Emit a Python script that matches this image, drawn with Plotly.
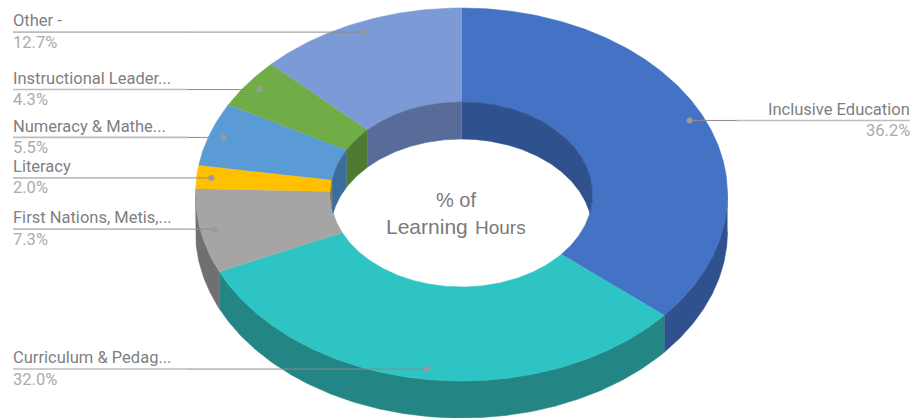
import numpy as np
import plotly.graph_objects as go

categories = ["Inclusive Education", "Curriculum & Pedag...", "First Nations, Metis,...", "Literacy",
              "Numeracy & Mathe...", "Instructional Leader...", "Other -"]
values = [36.2, 32.0, 7.3, 2.0, 5.5, 4.3, 12.7]
top_colors = ["#4472C4", "#2FC4C4", "#A5A5A5", "#FFC000", "#5B9BD5", "#70AD47", "#7C9BD6"]
side_colors = ["#2F528F", "#238584", "#707070", "#A67C00", "#3B6E9C", "#4E7A31", "#596C99"]

W, H = 911, 418
CX, CY = 461.5, 194.5
RX, RY = 266, 186.5
IX, IY = 131, 92.5
DEPTH = 37
DOT = 0.945
LABEL_EDGE = 13
RIGHT_EDGE = 910
BREAK_L, BREAK_R = 187, 737
FONT = "Roboto"

edges = np.cumsum([0] + values) / sum(values) * 360
fig = go.Figure()


def arc(a0, a1, rx, ry, dy=0.0):
    n = max(3, int(abs(a1 - a0) * 2))
    t = np.radians(np.linspace(a0, a1, n))
    return CX + rx * np.sin(t), CY + dy - ry * np.cos(t)


def poly(x, y, color, line=None):
    fig.add_trace(go.Scatter(x=list(x), y=list(y), mode="lines", fill="toself", fillcolor=color,
                             line=dict(color=line or color, width=0.6), hoverinfo="skip", showlegend=False))


# outer side wall (front half of the ring)
for i in range(len(values)):
    a0, a1 = max(edges[i], 90), min(edges[i + 1], 270)
    if a1 > a0:
        x, y = arc(a0, a1, RX, RY)
        x2, y2 = arc(a1, a0, RX, RY, DEPTH)
        poly(np.r_[x, x2], np.r_[y, y2], side_colors[i])

# top face
for i in range(len(values)):
    x, y = arc(edges[i], edges[i + 1], RX, RY)
    x2, y2 = arc(edges[i + 1], edges[i], IX, IY)
    poly(np.r_[x, x2], np.r_[y, y2], top_colors[i])

# inner wall (back half of the hole), clipped to the hole
for i in range(len(values)):
    for lo, hi in ((0, 90), (270, 360)):
        a0, a1 = max(edges[i], lo), min(edges[i + 1], hi)
        if a1 > a0:
            x, y = arc(a0, a1, IX, IY)
            y_low = np.minimum(y + DEPTH, 2 * CY - y)
            poly(np.r_[x, x[::-1]], np.r_[y, y_low[::-1]], side_colors[i])

# leader lines, dots and labels
annotations = []
for i, name in enumerate(categories):
    mid = np.radians((edges[i] + edges[i + 1]) / 2)
    dx = CX + DOT * RX * np.sin(mid)
    dy = CY - DOT * RY * np.cos(mid)
    right = dx > CX
    end = RIGHT_EDGE if right else LABEL_EDGE
    brk = BREAK_R if right else BREAK_L
    fig.add_trace(go.Scatter(x=[end, brk], y=[dy, dy], mode="lines", line=dict(color="#BDBDBD", width=1.6),
                             hoverinfo="skip", showlegend=False))
    fig.add_trace(go.Scatter(x=[brk, dx], y=[dy, dy], mode="lines", line=dict(color="#8C8C8C", width=1),
                             hoverinfo="skip", showlegend=False))
    fig.add_trace(go.Scatter(x=[dx], y=[dy], mode="markers", marker=dict(color="#9A9A9A", size=6),
                             hoverinfo="skip", showlegend=False))
    anchor = "right" if right else "left"
    annotations.append(dict(x=end, y=dy, yshift=11.2, text=name, xanchor=anchor, yanchor="middle", showarrow=False,
                            font=dict(family=FONT, size=16.5, color="#7F7F7F"), xref="x", yref="y",
                            borderpad=0, borderwidth=0))
    annotations.append(dict(x=end, y=dy, yshift=-10, text=f"{values[i]:.1f}%", xanchor=anchor, yanchor="middle",
                            showarrow=False, font=dict(family=FONT, size=16.5, color="#ABABAB"), xref="x", yref="y",
                            borderpad=0, borderwidth=0))

center_font = "Liberation Sans"
annotations += [
    dict(x=456, y=200, text="% of", showarrow=False, xanchor="center", yanchor="middle",
         font=dict(family=center_font, size=20, color="#7A7A7A")),
    dict(x=470, y=226, text="Learning", showarrow=False, xanchor="right", yanchor="middle",
         font=dict(family=center_font, size=21, color="#7A7A7A")),
    dict(x=473, y=227, text="Hours", showarrow=False, xanchor="left", yanchor="middle",
         font=dict(family=center_font, size=19, color="#7A7A7A")),
]

fig.update_layout(
    width=W, height=H, margin=dict(l=0, r=0, t=0, b=0), showlegend=False,
    paper_bgcolor="white", plot_bgcolor="white", annotations=annotations,
    xaxis=dict(range=[0, W], visible=False, fixedrange=True),
    yaxis=dict(range=[H, 0], visible=False, fixedrange=True),
)
fig.write_html("out.html", config={"displayModeBar": False},
               post_script="document.body.style.margin='0';document.body.style.overflow='hidden';")
